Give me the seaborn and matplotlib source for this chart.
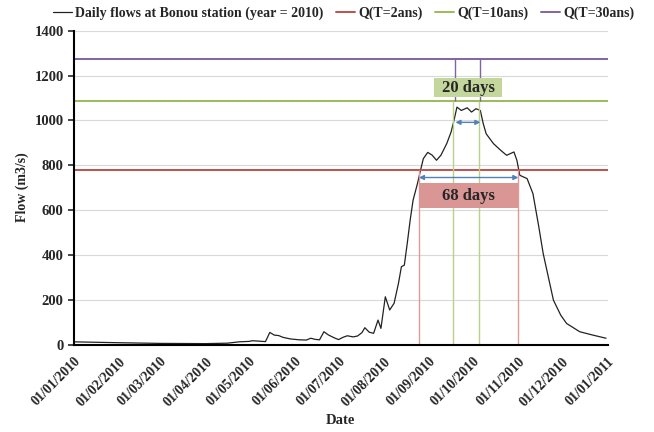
import pandas as pd
import matplotlib.pyplot as plt
import matplotlib.dates as mdates
from matplotlib.patches import Rectangle
import seaborn as sns

# daily flows (m3/s)
flow_dates = [
    "2010-01-01", "2010-01-16", "2010-02-01", "2010-03-01", "2010-04-01", "2010-04-16",
    "2010-04-24", "2010-05-01", "2010-05-03", "2010-05-12", "2010-05-15", "2010-05-18",
    "2010-05-21", "2010-05-24", "2010-05-29", "2010-06-04", "2010-06-09", "2010-06-12",
    "2010-06-15", "2010-06-18", "2010-06-21", "2010-06-24", "2010-06-28", "2010-07-01",
    "2010-07-04", "2010-07-07", "2010-07-11", "2010-07-14", "2010-07-17", "2010-07-19",
    "2010-07-22", "2010-07-25", "2010-07-28", "2010-07-30", "2010-08-02", "2010-08-05",
    "2010-08-08", "2010-08-11", "2010-08-13", "2010-08-15", "2010-08-17", "2010-08-19",
    "2010-08-21", "2010-08-24", "2010-08-26", "2010-08-28", "2010-08-31", "2010-09-03",
    "2010-09-06", "2010-09-09", "2010-09-13", "2010-09-16", "2010-09-18", "2010-09-20",
    "2010-09-23", "2010-09-27", "2010-09-30", "2010-10-03", "2010-10-06", "2010-10-08",
    "2010-10-10", "2010-10-15", "2010-10-20", "2010-10-24", "2010-10-29", "2010-10-31",
    "2010-11-02", "2010-11-07", "2010-11-11", "2010-11-15", "2010-11-18", "2010-11-22",
    "2010-11-25", "2010-11-30", "2010-12-04", "2010-12-13", "2010-12-22", "2010-12-31",
]
flow_values = [
    12, 10, 8, 5, 4, 6,
    12, 14, 17, 13, 54, 42,
    40, 32, 25, 21, 20, 28,
    23, 21, 57, 43, 30, 22,
    32, 39, 34, 38, 53, 75,
    55, 50, 109, 72, 213, 154,
    184, 273, 347, 354, 451, 555,
    644, 718, 775, 829, 857, 845,
    822, 844, 896, 948, 1000, 1059,
    1044, 1056, 1037, 1052, 1044, 985,
    940, 896, 866, 844, 859, 822,
    755, 740, 673, 525, 406, 287,
    198, 131, 94, 57, 42, 28,
]

# return-period flows
q_labels = ["Q(T=2ans)", "Q(T=10ans)", "Q(T=30ans)"]
q_values = [778, 1087, 1274]
q_colors = ["#c0504d", "#9bbb59", "#8064a2"]

# dates bounding the periods above each threshold
q2_dates = ["2010-08-25", "2010-11-01"]
q10_dates = ["2010-09-17", "2010-10-05"]
q30_dates = ["2010-09-19", "2010-10-06"]

duration_labels = ["68 days", "20 days"]

df = pd.DataFrame({"date": pd.to_datetime(flow_dates), "flow": flow_values})

sns.set_style("white")
plt.rcParams["font.family"] = ["Liberation Serif", "DejaVu Serif"]
plt.rcParams["font.weight"] = "bold"

fig = plt.figure(figsize=(6.54, 4.32), dpi=100)
ax = fig.add_axes([0.1131, 0.2025, 0.8158, 0.7265])

ax.yaxis.grid(True, color="#d9d9d9", lw=0.8)
ax.set_axisbelow(True)

sns.lineplot(data=df, x="date", y="flow", ax=ax, color="#222222", lw=0.9,
             label="Daily flows at Bonou station (year = 2010)")

for lab, val, col in zip(q_labels, q_values, q_colors):
    ax.axhline(val, color=col, lw=1.4, label=lab)

d2 = pd.to_datetime(q2_dates)
d10 = pd.to_datetime(q10_dates)
d30 = pd.to_datetime(q30_dates)
ax.vlines(d2, 0, q_values[0], color="#e09a98", lw=1)
ax.vlines(d10, 0, q_values[1], color="#b9d18a", lw=1)
ax.vlines(d30, q_values[1], q_values[2], color="#8064a2", lw=1)

# boxes with the durations
ax.add_patch(Rectangle((mdates.date2num(pd.Timestamp("2010-08-25")), 608),
                       mdates.date2num(pd.Timestamp("2010-11-01")) - mdates.date2num(pd.Timestamp("2010-08-25")),
                       111, facecolor="#d99694", edgecolor="none", zorder=3))
ax.add_patch(Rectangle((mdates.date2num(pd.Timestamp("2010-09-04")), 1102),
                       mdates.date2num(pd.Timestamp("2010-10-21")) - mdates.date2num(pd.Timestamp("2010-09-04")),
                       85, facecolor="#c3d69b", edgecolor="none", zorder=3))
ax.text(pd.Timestamp("2010-09-28"), 662, duration_labels[0], ha="center", va="center",
        fontsize=12, fontweight="bold", zorder=4)
ax.text(pd.Timestamp("2010-09-28"), 1143, duration_labels[1], ha="center", va="center",
        fontsize=12, fontweight="bold", zorder=4)

arrow = dict(arrowstyle="<|-|>", color="#4f81bd", lw=1, mutation_scale=7, shrinkA=0, shrinkB=0)
ax.annotate("", xy=(d2[1], 745), xytext=(d2[0], 745), arrowprops=arrow)
ax.annotate("", xy=(d30[1], 991), xytext=(d30[0], 991), arrowprops=arrow)

ax.set_xlim(pd.Timestamp("2010-01-01"), pd.Timestamp("2011-01-01"))
ax.set_ylim(0, 1400)
ax.set_yticks(range(0, 1401, 200))
ax.xaxis.set_major_locator(mdates.MonthLocator())
ax.xaxis.set_major_formatter(mdates.DateFormatter("%d/%m/%Y"))
plt.setp(ax.get_xticklabels(), rotation=45, ha="right", rotation_mode="anchor", fontsize=10)
plt.setp(ax.get_yticklabels(), fontsize=10.5)
ax.tick_params(axis="x", direction="inout", length=7, width=1.2, pad=4)
ax.tick_params(axis="y", direction="out", length=4, width=1.2, left=True)

for side in ["top", "right"]:
    ax.spines[side].set_visible(False)
for side in ["left", "bottom"]:
    ax.spines[side].set_color("black")
    ax.spines[side].set_linewidth(1.5)

ax.set_xlabel("Date", fontsize=10.5, fontweight="bold")
ax.set_ylabel("Flow (m3/s)", fontsize=10, fontweight="bold")

ax.legend(loc="center", bbox_to_anchor=(0.525, 0.97), bbox_transform=fig.transFigure,
          ncol=4, frameon=False, fontsize=10, handlelength=1.4, handletextpad=0.2,
          columnspacing=0.9, borderaxespad=0)

fig.savefig("out.png", dpi=100)
